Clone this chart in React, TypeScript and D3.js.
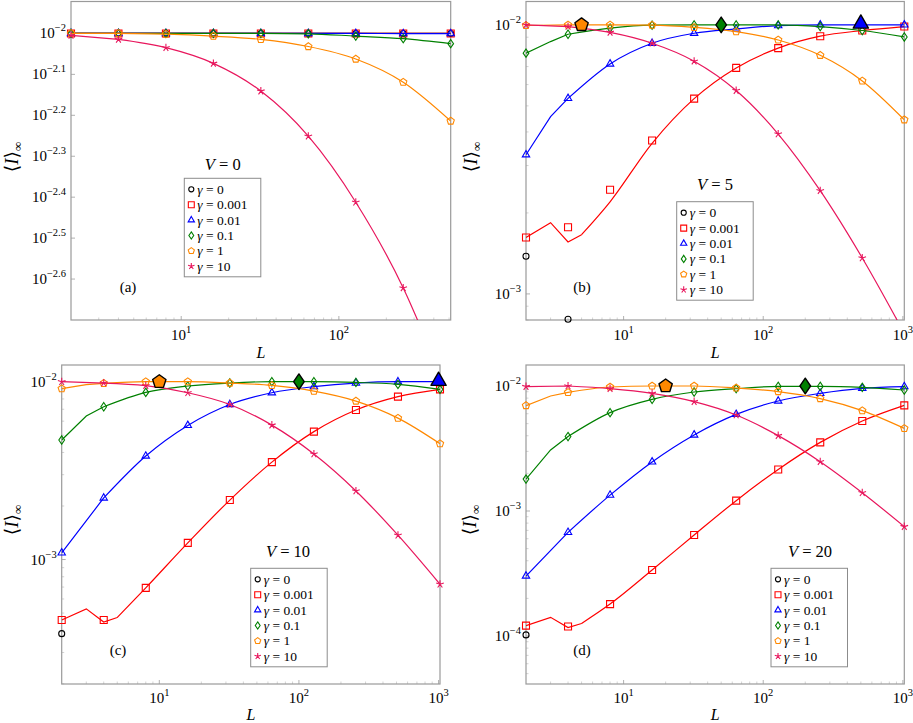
import React from "react";
import * as d3 from "d3";

// gamma values shown in every legend, with colour and marker per series
const GAMMA_LABELS = ["0", "0.001", "0.01", "0.1", "1", "10"];
const COLORS = ["#000000", "#ff0000", "#0000ff", "#008000", "#ff8800", "#e8175d"];
const MARKERS = ["circle", "square", "triangle", "diamond", "pentagon", "star"];

// system sizes L
const L_A = [2, 4, 8, 16, 32, 64, 128, 256, 512];
const L_BCD = [2, 4, 8, 16, 32, 64, 128, 256, 512, 1024];

// (a) V = 0
const A_G0 = [0.01, 0.01, 0.01, 0.01, 0.01, 0.01, 0.01, 0.01, 0.01];
const A_G0001 = [0.01, 0.01, 0.01, 0.01, 0.01, 0.01, 0.01, 0.01, 0.01];
const A_G001 = [0.01, 0.01, 0.01, 0.01, 0.01, 0.01, 0.01, 0.00999, 0.00999];
const A_G01 = [0.01, 0.01, 0.01, 0.01, 0.01, 0.00998, 0.00985, 0.00971, 0.00944];
const A_G1 = [0.01, 0.01, 0.00996, 0.00985, 0.00967, 0.00929, 0.00866, 0.0076, 0.00611];
const A_G10 = [0.00989, 0.00967, 0.00923, 0.00845, 0.00723, 0.00561, 0.00387, 0.00239, 0.00126];

// (b) V = 5
const B_G0 = [1.38e-3, 8.05e-4, null, null, null, null, null, null, null, null];
const B_G0001 = [1.62e-3, 1.77e-3, 2.44e-3, 3.72e-3, 5.32e-3, 6.92e-3, 8.2e-3, 9.08e-3, 9.53e-3, 9.86e-3];
const B_G001 = [3.29e-3, 5.33e-3, 7.16e-3, 8.55e-3, 9.31e-3, 9.66e-3, 9.94e-3, 1.0e-2, 1.0e-2, 1.0e-2];
const B_G01 = [7.85e-3, 9.23e-3, 9.73e-3, 9.98e-3, 1.0e-2, 1.0e-2, 1.0e-2, 9.86e-3, 9.53e-3, 9.02e-3];
const B_G1 = [9.95e-3, 1.0e-2, 1.0e-2, 9.98e-3, 9.79e-3, 9.44e-3, 8.79e-3, 7.71e-3, 6.19e-3, 4.44e-3];
const B_G10 = [1.0e-2, 9.86e-3, 9.38e-3, 8.55e-3, 7.33e-3, 5.7e-3, 3.93e-3, 2.42e-3, 1.36e-3, 7.14e-4];

// (c) V = 10
const C_G0 = [3.83e-4, null, null, null, null, null, null, null, null, null];
const C_G0001 = [4.57e-4, 4.57e-4, 6.93e-4, 1.24e-3, 2.16e-3, 3.53e-3, 5.24e-3, 6.93e-3, 8.24e-3, 9.06e-3];
const C_G001 = [1.09e-3, 2.22e-3, 3.82e-3, 5.68e-3, 7.45e-3, 8.67e-3, 9.38e-3, 9.83e-3, 1.0e-2, 1.0e-2];
const C_G01 = [4.7e-3, 7.23e-3, 8.71e-3, 9.46e-3, 9.83e-3, 1.0e-2, 1.0e-2, 9.91e-3, 9.66e-3, 9.06e-3];
const C_G1 = [9.14e-3, 9.79e-3, 1.0e-2, 1.0e-2, 9.83e-3, 9.53e-3, 8.85e-3, 7.78e-3, 6.24e-3, 4.48e-3];
const C_G10 = [1.0e-2, 9.83e-3, 9.5e-3, 8.67e-3, 7.45e-3, 5.7e-3, 3.92e-3, 2.43e-3, 1.37e-3, 7.26e-4];

// (d) V = 20
const D_G0 = [1.02e-4, null, null, null, null, null, null, null, null, null];
const D_G0001 = [1.21e-4, 1.19e-4, 1.8e-4, 3.37e-4, 6.43e-4, 1.21e-3, 2.15e-3, 3.54e-3, 5.25e-3, 7.0e-3];
const D_G001 = [3.02e-4, 6.75e-4, 1.34e-3, 2.47e-3, 4.06e-3, 5.93e-3, 7.59e-3, 8.73e-3, 9.57e-3, 9.89e-3];
const D_G01 = [1.8e-3, 3.94e-3, 6.12e-3, 7.82e-3, 8.95e-3, 9.53e-3, 9.93e-3, 9.93e-3, 9.75e-3, 9.29e-3];
const D_G1 = [6.97e-3, 8.89e-3, 9.82e-3, 1.0e-2, 1.0e-2, 9.64e-3, 9.02e-3, 7.93e-3, 6.35e-3, 4.58e-3];
const D_G10 = [9.89e-3, 1.0e-2, 9.53e-3, 8.73e-3, 7.5e-3, 5.86e-3, 4.01e-3, 2.48e-3, 1.4e-3, 7.5e-4];

// extra points of the curves (L, value) where the line leaves the markers
const A_LINE_EXTRA: [number, number][][] = [[], [], [], [], [], []];
const B_LINE_EXTRA: [number, number][][] = [
  [],
  [[3, 1.84e-3], [4, 1.56e-3], [5, 1.66e-3], [8, 2.2e-3], [16, 3.63e-3]],
  [[3, 4.56e-3]],
  [[3, 8.67e-3]],
  [],
  [],
];
const C_LINE_EXTRA: [number, number][][] = [
  [],
  [[3, 5.28e-4], [4, 4.45e-4], [5, 4.72e-4]],
  [],
  [[3, 6.41e-3]],
  [[3, 9.62e-3]],
  [],
];
const D_LINE_EXTRA: [number, number][][] = [
  [],
  [[3, 1.41e-4], [4, 1.17e-4], [5, 1.26e-4]],
  [],
  [[3, 3.08e-3]],
  [[3, 8.32e-3]],
  [],
];

// maxima highlighted with big filled markers: [series index, L, value]
const B_PEAKS: [number, number, number][] = [[4, 5, 0.01], [3, 50, 0.01], [2, 500, 0.0101]];
const C_PEAKS: [number, number, number][] = [[4, 10, 0.01], [3, 100, 0.01], [2, 1000, 0.0101]];
const D_PEAKS: [number, number, number][] = [[4, 20, 0.01], [3, 200, 0.01]];

// tick exponents
const A_YTICKS = [-2, -2.1, -2.2, -2.3, -2.4, -2.5, -2.6];
const B_YTICKS = [-2, -3];
const C_YTICKS = [-2, -3];
const D_YTICKS = [-2, -3, -4];
const A_XTICKS = [1, 2];
const BCD_XTICKS = [1, 2, 3];

const FONT = "'Liberation Serif', 'DejaVu Serif', serif";

const PANELS = [
  {
    tag: "(a)", V: "0", L: L_A,
    data: [A_G0, A_G0001, A_G001, A_G01, A_G1, A_G10], extra: A_LINE_EXTRA, peaks: [] as [number, number, number][],
    x0: 71, x1: 450.7, y0: 1.5, y1: 320, xDom: [2, 512], yDom: [-2.7, -1.922],
    yTicks: A_YTICKS, yMinor: false, xTicks: A_XTICKS,
    legend: [184.3, 178.3], title: [222.7, 169.5], tagPos: [128, 292], ylab: [12, 157], xlabY: 358, xtlY: 340,
  },
  {
    tag: "(b)", V: "5", L: L_BCD,
    data: [B_G0, B_G0001, B_G001, B_G01, B_G1, B_G10], extra: B_LINE_EXTRA, peaks: B_PEAKS,
    x0: 526, x1: 904.3, y0: 1.5, y1: 320, xDom: [2, 1024], yDom: [-3.097, -1.913],
    yTicks: B_YTICKS, yMinor: true, xTicks: BCD_XTICKS,
    legend: [676.7, 201.7], title: [715, 189.5], tagPos: [582, 292], ylab: [471, 157], xlabY: 358, xtlY: 340,
  },
  {
    tag: "(c)", V: "10", L: L_BCD,
    data: [C_G0, C_G0001, C_G001, C_G01, C_G1, C_G10], extra: C_LINE_EXTRA, peaks: C_PEAKS,
    x0: 61.7, x1: 440, y0: 365, y1: 684, xDom: [2, 1024], yDom: [-3.7, -1.906],
    yTicks: C_YTICKS, yMinor: true, xTicks: BCD_XTICKS,
    legend: [250.7, 568.3], title: [288, 556.7], tagPos: [118, 655], ylab: [12, 520], xlabY: 720, xtlY: 703,
  },
  {
    tag: "(d)", V: "20", L: L_BCD,
    data: [D_G0, D_G0001, D_G001, D_G01, D_G1, D_G10], extra: D_LINE_EXTRA, peaks: D_PEAKS,
    x0: 526, x1: 904.3, y0: 365, y1: 684, xDom: [2, 1024], yDom: [-4.384, -1.832],
    yTicks: D_YTICKS, yMinor: true, xTicks: BCD_XTICKS,
    legend: [771, 568.3], title: [810, 556.7], tagPos: [582, 655], ylab: [470, 520], xlabY: 720, xtlY: 703,
  },
];

function markerPath(type: string, r: number): string {
  const poly = (pts: [number, number][]) => "M" + pts.map((p) => p.join(",")).join("L") + "Z";
  switch (type) {
    case "circle":
      return `M${-r},0A${r},${r} 0 1,0 ${r},0A${r},${r} 0 1,0 ${-r},0Z`;
    case "square":
      return poly([[-r, -r], [r, -r], [r, r], [-r, r]]);
    case "triangle":
      return poly([[0, -r * 1.1], [r * 0.95, r * 0.55], [-r * 0.95, r * 0.55]]);
    case "diamond":
      return poly([[0, -r], [r * 0.68, 0], [0, r], [-r * 0.68, 0]]);
    case "pentagon":
      return poly(d3.range(5).map((k) => {
        const a = -Math.PI / 2 + (k * 2 * Math.PI) / 5;
        return [r * Math.cos(a), r * Math.sin(a)] as [number, number];
      }));
    default: {
      // pgf "star": five spokes
      return d3.range(5).map((k) => {
        const a = -Math.PI / 2 + (k * 2 * Math.PI) / 5;
        return `M0,0L${r * Math.cos(a)},${r * Math.sin(a)}`;
      }).join("");
    }
  }
}

const MARK_R: Record<string, number> = { circle: 3, square: 3.5, triangle: 3.9, diamond: 4.2, pentagon: 3.8, star: 4 };

function Panel({ p }: { p: (typeof PANELS)[number] }) {
  const x = d3.scaleLog().domain(p.xDom).range([p.x0, p.x1]);
  const y = d3.scaleLog().domain([10 ** p.yDom[0], 10 ** p.yDom[1]]).range([p.y1, p.y0]);
  const clipId = "clip" + p.tag.replace(/\W/g, "");

  const xMinor: number[] = [];
  const yMinor: number[] = [];
  for (let k = -5; k <= 3; k++) {
    for (let m = 2; m <= 9; m++) {
      const v = m * 10 ** k;
      if (v > p.xDom[0] && v < p.xDom[1]) xMinor.push(v);
      if (p.yMinor && v > 10 ** p.yDom[0] && v < 10 ** p.yDom[1]) yMinor.push(v);
    }
  }

  const lin = d3.line<[number, number]>().x((d) => x(d[0])).y((d) => y(d[1]));
  const mono = d3.line<[number, number]>().x((d) => x(d[0])).y((d) => y(d[1])).curve(d3.curveMonotoneX);
  const linePath = (pts: [number, number][]) => {
    const head = pts.filter((d) => d[0] <= 5);
    let tail = pts.filter((d) => d[0] >= 5);
    if (!tail.length || tail[0][0] !== 5) tail = [head[head.length - 1], ...tail];
    return (head.length > 1 ? lin(head) : "") + (tail.length > 1 ? mono(tail) : "");
  };

  const inside = (v: number) => y(v) >= p.y0 - 1 && y(v) <= p.y1 + 1;

  return (
    <g>
      <defs>
        <clipPath id={clipId}>
          <rect x={p.x0} y={p.y0} width={p.x1 - p.x0} height={p.y1 - p.y0} />
        </clipPath>
      </defs>
      {/* minor ticks */}
      {xMinor.map((v, i) => (
        <line key={"xm" + i} x1={x(v)} x2={x(v)} y1={p.y1} y2={p.y1 - 2.5} stroke="#c8c8c8" strokeWidth={0.8} />
      ))}
      {yMinor.map((v, i) => (
        <line key={"ym" + i} x1={p.x0} x2={p.x0 + 2.5} y1={y(v)} y2={y(v)} stroke="#c8c8c8" strokeWidth={0.8} />
      ))}
      {/* major ticks and labels */}
      {p.xTicks.map((e) => (
        <g key={"xt" + e}>
          <line x1={x(10 ** e)} x2={x(10 ** e)} y1={p.y1} y2={p.y1 - 4} stroke="#a8a8a8" strokeWidth={0.9} />
          <text x={x(10 ** e)} y={p.xtlY} textAnchor="middle" fontSize={15} fontFamily={FONT}>
            10<tspan dy={-7} fontSize={10.5}>{e}</tspan>
          </text>
        </g>
      ))}
      {p.yTicks.map((e) => (
        <g key={"yt" + e}>
          <line x1={p.x0} x2={p.x0 + 4} y1={y(10 ** e)} y2={y(10 ** e)} stroke="#a8a8a8" strokeWidth={0.9} />
          <text x={p.x0 - 5} y={y(10 ** e) + 5} textAnchor="end" fontSize={15} fontFamily={FONT}>
            10<tspan dy={-7} fontSize={10.5}>{"\u2212" + String(Math.abs(e))}</tspan>
          </text>
        </g>
      ))}
      <rect x={p.x0} y={p.y0} width={p.x1 - p.x0} height={p.y1 - p.y0} fill="none" stroke="#9a9a9a" strokeWidth={1.2} />

      {/* series: line then markers */}
      {p.data.map((vals, s) => {
        const marks: [number, number][] = [];
        vals.forEach((v, i) => { if (v != null) marks.push([p.L[i], v as number]); });
        const extra = p.extra[s];
        const linePts = [...marks.filter((d) => !extra.some((e) => e[0] === d[0])), ...extra].sort((a, b) => a[0] - b[0]);
        const type = MARKERS[s];
        const r = MARK_R[type];
        return (
          <g key={"s" + s}>
            {linePts.length > 2 && (
              <path d={linePath(linePts)} fill="none" stroke={COLORS[s]} strokeWidth={1.2} clipPath={`url(#${clipId})`} />
            )}
            {marks.filter((d) => inside(d[1])).map((d, i) => (
              <path key={i} d={markerPath(type, r)} transform={`translate(${x(d[0])},${y(d[1])})`}
                fill="none" stroke={COLORS[s]} strokeWidth={1.1} />
            ))}
          </g>
        );
      })}

      {/* peak markers */}
      {p.peaks.map(([s, L, v], i) => {
        const type = MARKERS[s];
        const r = type === "pentagon" ? 7 : type === "diamond" ? 7.8 : 8;
        return (
          <path key={"pk" + i} d={markerPath(type, r)} transform={`translate(${x(L)},${y(v)})`}
            fill={COLORS[s]} stroke="#000" strokeWidth={1.4} strokeLinejoin="round" />
        );
      })}

      {/* legend */}
      <text x={p.title[0]} y={p.title[1]} textAnchor="middle" fontSize={16.5} fontFamily={FONT}>
        <tspan fontStyle="italic">V</tspan> = {p.V}
      </text>
      <rect x={p.legend[0]} y={p.legend[1]} width={76.5} height={98.5} fill="white" stroke="#8c8c8c" strokeWidth={1} />
      {GAMMA_LABELS.map((g, s) => {
        const cy = p.legend[1] + 11 + s * 15.4;
        const type = MARKERS[s];
        return (
          <g key={"lg" + s}>
            <path d={markerPath(type, MARK_R[type] * 0.85)} transform={`translate(${p.legend[0] + 7},${cy})`}
              fill="none" stroke={COLORS[s]} strokeWidth={1.1} />
            <text x={p.legend[0] + 13} y={cy + 4.5} fontSize={13.5} fontFamily={FONT}>
              <tspan fontStyle="italic">γ</tspan> = {g}
            </text>
          </g>
        );
      })}

      {/* panel tag and axis labels */}
      <text x={p.tagPos[0]} y={p.tagPos[1]} textAnchor="middle" fontSize={15} fontFamily={FONT}>{p.tag}</text>
      <text x={(p.x0 + p.x1) / 2} y={p.xlabY} textAnchor="middle" fontSize={16} fontStyle="italic" fontFamily={FONT}>L</text>
      <text transform={`translate(${p.ylab[0] + 6},${p.ylab[1]}) rotate(-90)`} textAnchor="middle" fontSize={19} fontFamily={FONT}>
        ⟨<tspan fontStyle="italic">I</tspan>⟩<tspan dy={4} fontSize={13}>∞</tspan>
      </text>
    </g>
  );
}

export default function App() {
  return (
    <svg width={913} height={723} style={{ position: "absolute", left: 0, top: 0, background: "white" }}>
      <rect width={913} height={723} fill="white" />
      {PANELS.map((p) => (
        <Panel key={p.tag} p={p} />
      ))}
    </svg>
  );
}
